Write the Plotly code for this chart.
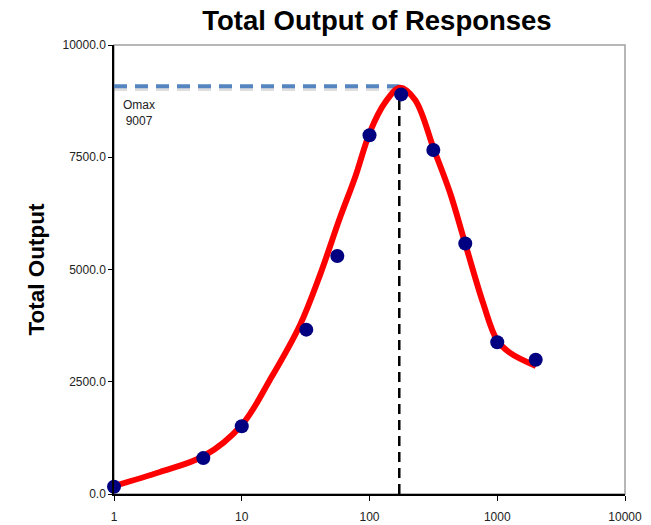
import plotly.graph_objects as go

# Observed responses
dose = [1, 5, 10, 32, 56, 100, 177, 316, 562, 1000, 2000]
output = [160, 800, 1510, 3660, 5300, 7990, 8900, 7660, 5580, 3380, 2990]

# Fitted curve
fit_x = [1.0, 2.29, 5.06, 10.0, 16.6, 28.6, 41.0, 58.7, 76.9, 101, 132, 173, 227, 320, 427, 559, 774, 995, 1259, 2011]
fit_y = [178, 490, 847, 1538, 2541, 3766, 4881, 6151, 7043, 8067, 8714, 9048, 8781, 7667, 6708, 5594, 4257, 3432, 3142, 2850]

# Omax marker lines
omax_label = 9007
omax_level = 9080
omax_dose = 171

x_tickvals = [1, 10, 100, 1000, 10000]
x_ticktext = ["1", "10", "100", "1000", "10000"]
y_tickvals = [0, 2500, 5000, 7500, 10000]

FONT = "Arial, Liberation Sans, sans-serif"

fig = go.Figure()

# Horizontal dashed Omax line (shadow + line)
fig.add_trace(go.Scatter(
    x=[1, omax_dose], y=[omax_level - 60, omax_level - 60], mode="lines",
    line=dict(color="rgba(0,0,0,0.13)", width=4, dash="13px,8px"),
    hoverinfo="skip", showlegend=False))
fig.add_trace(go.Scatter(
    x=[1, omax_dose], y=[omax_level, omax_level], mode="lines",
    line=dict(color="#5585C0", width=4, dash="13px,8px"),
    hoverinfo="skip", showlegend=False))
# Vertical dashed line
fig.add_trace(go.Scatter(
    x=[omax_dose, omax_dose], y=[0, omax_level], mode="lines",
    line=dict(color="black", width=2.5, dash="10px,6px"),
    hoverinfo="skip", showlegend=False))
# Fitted curve
fig.add_trace(go.Scatter(
    x=fit_x, y=fit_y, mode="lines",
    line=dict(color="#FF0000", width=6, shape="spline", smoothing=1.0),
    showlegend=False))
# Data points
fig.add_trace(go.Scatter(
    x=dose, y=output, mode="markers",
    marker=dict(color="#000080", size=14),
    showlegend=False, cliponaxis=False))

L, R, T, B = 114, 26, 45, 31
W, H = 651, 525

fig.update_layout(
    width=W, height=H,
    margin=dict(l=L, r=R, t=T, b=B, autoexpand=False),
    paper_bgcolor="white", plot_bgcolor="white",
    font=dict(family=FONT, color="#222"),
    title=dict(text="<b>Total Output of Responses</b>", x=377 / W, xanchor="center",
               y=1 - 20 / H, yanchor="middle",
               font=dict(size=27.5, family=FONT, color="black")),
    shapes=[dict(type="rect", xref="paper", yref="paper", x0=0, x1=1, y0=0, y1=1,
                 line=dict(color="#A0A0A0", width=1.5), layer="below")],
    annotations=[
        dict(text=f"Omax<br>{omax_label}", xref="paper", yref="paper",
             x=(139 - L) / (W - L - R), y=(494 - 113) / (H - T - B),
             xanchor="center", yanchor="middle", showarrow=False, align="center",
             font=dict(size=12, family=FONT, color="#222")),
        dict(text="<b>Total Output</b>", xref="paper", yref="paper",
             x=-(L - 36) / (W - L - R), y=0.5, textangle=-90,
             xanchor="center", yanchor="middle", showarrow=False,
             font=dict(size=22.5, family=FONT, color="black")),
    ],
)

fig.update_xaxes(type="log", range=[0, 4], tickvals=x_tickvals, ticktext=x_ticktext,
                 ticks="outside", ticklen=5, tickcolor="black", tickwidth=1,
                 showline=True, linecolor="black", linewidth=1.5,
                 showgrid=False, zeroline=False, ticklabelstandoff=6, automargin=False,
                 tickfont=dict(size=12, family=FONT, color="#222"))
fig.update_yaxes(range=[0, 10000], tickvals=y_tickvals, tickformat=".1f", ticksuffix="\u00a0",
                 ticks="outside", ticklen=4, tickcolor="black", tickwidth=1,
                 showline=True, linecolor="black", linewidth=1.5,
                 showgrid=False, zeroline=False, automargin=False,
                 tickfont=dict(size=12, family=FONT, color="#222"))

fig.write_html("out.html")
